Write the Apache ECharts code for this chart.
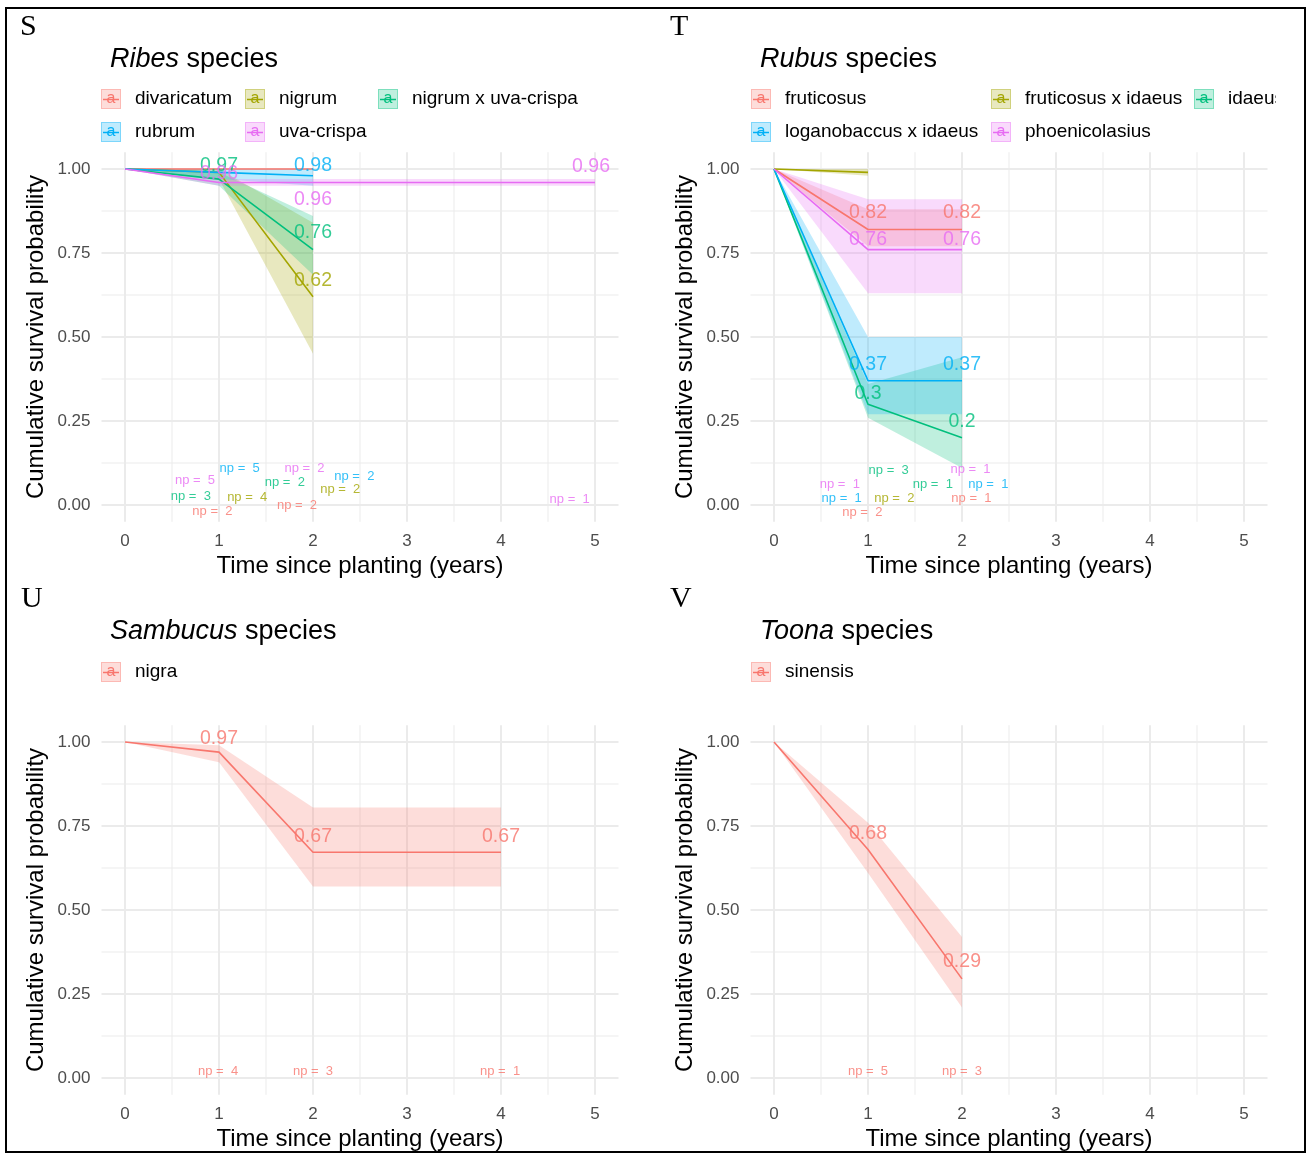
<!DOCTYPE html>
<html><head><meta charset="utf-8">
<script src="https://cdn.jsdelivr.net/npm/echarts@6/dist/echarts.min.js"></script>
<style>html,body{margin:0;padding:0;background:#fff}#c{width:1307px;height:1154px}</style>
</head><body><div id="c"></div>
<script>
// ---------- axis ticks ----------
const xTicks = [0, 1, 2, 3, 4, 5];
const xMinor = [0.5, 1.5, 2.5, 3.5, 4.5];
const yTicks = [0, 0.25, 0.5, 0.75, 1];
const yMinor = [0.125, 0.375, 0.625, 0.875];

// ---------- S: Ribes ----------
const ribesSpecies = ['divaricatum', 'nigrum', 'nigrum x uva-crispa', 'rubrum', 'uva-crispa'];
const ribesTime  = [[0,1,2], [0,1,2], [0,1,2], [0,1,2], [0,1,2,5]];
const ribesSurv  = [[1,1,1], [1,0.99,0.62], [1,0.97,0.76], [1,0.99,0.98], [1,0.96,0.96,0.96]];
const ribesLower = [[1,1,1], [1,0.97,0.45], [1,0.95,0.685], [1,0.97,0.95], [1,0.95,0.95,0.95]];
const ribesUpper = [[1,1,1], [1,1,0.84], [1,0.99,0.86], [1,1,1], [1,0.97,0.97,0.97]];
const ribesValueLabels = [[2,1,'0.97'], [4,1,'0.96'], [3,2,'0.98'], [4,2,'0.96'], [2,2,'0.76'], [1,2,'0.62'], [4,5,'0.96']];
const ribesNp = [[4,5], [3,5], [4,2], [2,2], [3,2], [2,3], [1,4], [1,2], [0,2], [0,2], [4,1]];
const ribesNpPos = [[0.745,0.074], [1.22,0.11], [1.91,0.11], [1.70,0.068], [2.44,0.086], [0.70,0.027], [1.30,0.024], [2.29,0.045], [0.93,-0.018], [1.83,0.0], [4.73,0.018]];

// ---------- T: Rubus ----------
const rubusSpecies = ['fruticosus', 'fruticosus x idaeus', 'idaeus', 'loganobaccus x idaeus', 'phoenicolasius'];
const rubusTime  = [[0,1,2], [0,1], [0,1,2], [0,1,2], [0,1,2]];
const rubusSurv  = [[1,0.82,0.82], [1,0.99], [1,0.30,0.20], [1,0.37,0.37], [1,0.76,0.76]];
const rubusLower = [[1,0.77,0.77], [1,0.98], [1,0.26,0.11], [1,0.27,0.27], [1,0.63,0.63]];
const rubusUpper = [[1,0.88,0.88], [1,1], [1,0.36,0.44], [1,0.50,0.50], [1,0.91,0.91]];
const rubusValueLabels = [[0,1,'0.82'], [0,2,'0.82'], [4,1,'0.76'], [4,2,'0.76'], [3,1,'0.37'], [3,2,'0.37'], [2,1,'0.3'], [2,2,'0.2']];
const rubusNp = [[2,3], [4,1], [2,1], [4,1], [3,1], [3,1], [1,2], [0,1], [0,2]];
const rubusNpPos = [[1.22,0.104], [0.70,0.062], [1.69,0.06], [2.09,0.107], [2.28,0.06], [0.72,0.021], [1.28,0.021], [2.10,0.021], [0.94,-0.021]];

// ---------- U: Sambucus ----------
const sambucusSpecies = ['nigra'];
const sambucusTime  = [[0,1,2,4]];
const sambucusSurv  = [[1,0.97,0.672,0.672]];
const sambucusLower = [[1,0.94,0.57,0.57]];
const sambucusUpper = [[1,0.99,0.805,0.805]];
const sambucusValueLabels = [[0,1,'0.97'], [0,2,'0.67'], [0,4,'0.67']];
const sambucusNp = [[0,4], [0,3], [0,1]];
const sambucusNpPos = [[0.99,0.021], [2.0,0.021], [3.99,0.021]];

// ---------- V: Toona ----------
const toonaSpecies = ['sinensis'];
const toonaTime  = [[0,1,2]];
const toonaSurv  = [[1,0.68,0.295]];
const toonaLower = [[1,0.61,0.21]];
const toonaUpper = [[1,0.76,0.42]];
const toonaValueLabels = [[0,1,'0.68'], [0,2,'0.29']];
const toonaNp = [[0,5], [0,3]];
const toonaNpPos = [[1.0,0.021], [2.0,0.021]];

// ---------- styles / layout ----------
const FONT = '"Liberation Sans", Arial, Helvetica, sans-serif';
const SERIF = '"Liberation Serif", "Times New Roman", serif';
const HUE5 = ['#F8766D', '#A3A500', '#00BF7D', '#00B0F6', '#E76BF3'];
const HUE1 = ['#F8766D'];
function rgba(hex, a) { const n = parseInt(hex.slice(1), 16); return `rgba(${n >> 16},${(n >> 8) & 255},${n & 255},${a})`; }

// legend key background: translucent fill box with the line key through it
function keyImage(c) {
  const cv = document.createElement('canvas'); cv.width = 20; cv.height = 20;
  const g = cv.getContext('2d');
  g.fillStyle = rgba(c, 0.25); g.fillRect(0, 0, 20, 20);
  g.strokeStyle = rgba(c, 0.35); g.lineWidth = 1; g.strokeRect(0.5, 0.5, 19, 19);
  g.strokeStyle = c; g.lineWidth = 1.5; g.beginPath(); g.moveTo(2, 10.5); g.lineTo(18, 10.5); g.stroke();
  return cv;
}

const panels = [
  { letter: 'S', genus: 'Ribes', species: ribesSpecies, time: ribesTime, surv: ribesSurv, lower: ribesLower, upper: ribesUpper,
    vlabels: ribesValueLabels, np: ribesNp, npPos: ribesNpPos, colors: HUE5,
    voff: [[0,-13],[0,-9],[0,-10],[0,17],[0,-17],[0,-16],[-4,-16]],
    gridLeft: 101.5, gridTop: 152.2, letterPos: [20, 27], titlePos: [110, 60],
    keys: [[101,99],[245,99],[378,99],[101,132],[245,132]] },
  { letter: 'T', genus: 'Rubus', species: rubusSpecies, time: rubusTime, surv: rubusSurv, lower: rubusLower, upper: rubusUpper,
    vlabels: rubusValueLabels, np: rubusNp, npPos: rubusNpPos, colors: HUE5,
    voff: [[0,-17],[0,-17],[0,-10],[0,-10],[0,-16],[0,-16],[0,-11],[0,-16]],
    gridLeft: 750.5, gridTop: 152.2, letterPos: [670, 27], titlePos: [760, 60],
    keys: [[751,99],[991,99],[1194,99],[751,132],[991,132]] },
  { letter: 'U', genus: 'Sambucus', species: sambucusSpecies, time: sambucusTime, surv: sambucusSurv, lower: sambucusLower, upper: sambucusUpper,
    vlabels: sambucusValueLabels, np: sambucusNp, npPos: sambucusNpPos, colors: HUE1,
    voff: [[0,-13],[0,-16],[0,-16]],
    gridLeft: 101.5, gridTop: 725.2, letterPos: [21, 599], titlePos: [110, 632],
    keys: [[101,672]] },
  { letter: 'V', genus: 'Toona', species: toonaSpecies, time: toonaTime, surv: toonaSurv, lower: toonaLower, upper: toonaUpper,
    vlabels: toonaValueLabels, np: toonaNp, npPos: toonaNpPos, colors: HUE1,
    voff: [[0,-16],[0,-17]],
    gridLeft: 750.5, gridTop: 725.2, letterPos: [670, 599], titlePos: [760, 632],
    keys: [[751,672]] }
];

const GRID_W = 517, GRID_H = 369.6;
const grids = [], xAxes = [], yAxes = [], series = [], titles = [], legends = [];

function gridRenderer(params, api) {
  if (params.dataIndex !== 0) return;
  const ch = [];
  const add = (p1, p2, w) => {
    const a = api.coord(p1), b = api.coord(p2);
    ch.push({ type: 'line', shape: { x1: a[0], y1: a[1], x2: b[0], y2: b[1] }, style: { stroke: '#EBEBEB', lineWidth: w } });
  };
  xMinor.forEach(x => add([x, -0.05], [x, 1.05], 1));
  yMinor.forEach(y => add([-0.25, y], [5.25, y], 1));
  xTicks.forEach(x => add([x, -0.05], [x, 1.05], 2));
  yTicks.forEach(y => add([-0.25, y], [5.25, y], 2));
  return { type: 'group', children: ch };
}

panels.forEach((p, gi) => {
  grids.push({ left: p.gridLeft, top: p.gridTop, width: GRID_W, height: GRID_H, containLabel: false, outerBoundsMode: 'none' });
  xAxes.push({
    gridIndex: gi, type: 'value', min: -0.25, max: 5.25,
    axisLine: { show: false }, axisTick: { show: false }, splitLine: { show: false },
    axisLabel: { customValues: xTicks, color: '#4D4D4D', fontSize: 17, margin: 11, fontFamily: FONT },
    name: 'Time since planting (years)', nameLocation: 'middle', nameGap: 33,
    nameTextStyle: { fontSize: 24, color: '#000', fontFamily: FONT }
  });
  yAxes.push({
    gridIndex: gi, type: 'value', min: -0.05, max: 1.05,
    axisLine: { show: false }, axisTick: { show: false }, splitLine: { show: false },
    axisLabel: { customValues: yTicks, formatter: v => v.toFixed(2), color: '#4D4D4D', fontSize: 17, margin: 11, fontFamily: FONT },
    name: 'Cumulative survival probability', nameLocation: 'middle', nameGap: 53,
    nameTextStyle: { fontSize: 24, color: '#000', fontFamily: FONT }
  });
  // background grid lines
  series.push({ type: 'custom', xAxisIndex: gi, yAxisIndex: gi, data: [[0, 0]], renderItem: gridRenderer, z: 0, silent: true });
  // ribbons
  p.species.forEach((name, si) => {
    const t = p.time[si], lo = p.lower[si], hi = p.upper[si], c = p.colors[si];
    series.push({
      type: 'custom', name, xAxisIndex: gi, yAxisIndex: gi, z: 1, silent: true,
      data: t.map((x, i) => [x, lo[i], hi[i]]),
      renderItem: (params, api) => {
        if (params.dataIndex !== 0) return;
        const pts = [];
        for (let i = 0; i < t.length; i++) pts.push(api.coord([t[i], lo[i]]));
        for (let i = t.length - 1; i >= 0; i--) pts.push(api.coord([t[i], hi[i]]));
        return { type: 'polygon', shape: { points: pts }, style: { fill: rgba(c, 0.25) } };
      }
    });
  });
  // survival lines
  p.species.forEach((name, si) => {
    const c = p.colors[si];
    series.push({
      type: 'line', name, xAxisIndex: gi, yAxisIndex: gi, z: 2, silent: true,
      data: p.time[si].map((x, i) => [x, p.surv[si][i]]),
      showSymbol: false, symbol: 'none', color: c,
      lineStyle: { color: c, width: 1.6 }
    });
  });
  // value labels
  series.push({
    type: 'scatter', xAxisIndex: gi, yAxisIndex: gi, z: 3, silent: true, symbolSize: 1, clip: false,
    itemStyle: { color: 'rgba(0,0,0,0)' },
    label: { show: true, position: 'inside', fontSize: 19.5, fontFamily: FONT, formatter: q => q.data.text },
    data: p.vlabels.map(([si, t, text], k) => {
      const s = p.surv[si][p.time[si].indexOf(t)];
      return { value: [t, s], text, label: { color: p.colors[si], offset: p.voff[k] } };
    })
  });
  // number-at-risk labels
  series.push({
    type: 'scatter', xAxisIndex: gi, yAxisIndex: gi, z: 3, silent: true, symbolSize: 1, clip: false,
    itemStyle: { color: 'rgba(0,0,0,0)' },
    label: { show: true, position: 'inside', fontSize: 13, fontFamily: FONT, formatter: q => q.data.text },
    data: p.np.map(([si, n], k) => ({ value: p.npPos[k], text: 'np =  ' + n, label: { color: p.colors[si] } }))
  });
  // titles
  titles.push({ text: p.letter, left: p.letterPos[0] - 5, top: p.letterPos[1] - 20,
    textStyle: { fontFamily: SERIF, fontSize: 30, fontWeight: 'normal', color: '#000' } });
  titles.push({ text: `{i|${p.genus}}{n| species}`, left: p.titlePos[0] - 5, top: p.titlePos[1] - 19,
    textStyle: { fontWeight: 'normal', rich: {
      i: { fontStyle: 'italic', fontWeight: 'normal', fontSize: 27, fontFamily: FONT, color: '#000' },
      n: { fontWeight: 'normal', fontSize: 27, fontFamily: FONT, color: '#000' } } } });
  // legends (one per key, laid out in columns like the original)
  p.species.forEach((name, si) => {
    const c = p.colors[si], k = p.keys[si];
    legends.push({
      left: k[0] - 10, top: k[1] - 15, icon: 'none', itemWidth: 0, itemHeight: 20, padding: 5,
      selectedMode: false, data: [name],
      formatter: () => `{k|a}{n|${name}}`,
      textStyle: { rich: {
        k: { width: 20, height: 20, lineHeight: 20, align: 'center', verticalAlign: 'middle',
             backgroundColor: { image: keyImage(c) }, color: c, fontSize: 16, fontWeight: 'normal', fontFamily: FONT },
        n: { fontSize: 19, color: '#000', fontFamily: FONT, padding: [0, 0, 0, 14] } } }
    });
  });
});

const chart = echarts.init(document.getElementById('c'), null, { renderer: 'canvas' });
chart.setOption({
  animation: false,
  backgroundColor: '#fff',
  title: titles,
  legend: legends,
  grid: grids,
  xAxis: xAxes,
  yAxis: yAxes,
  series: series,
  graphic: [
    // the original panel clips the last legend entry at its right edge
    { type: 'rect', shape: { x: 1276, y: 84, width: 28, height: 30 }, style: { fill: '#fff' }, z: 90 },
    { type: 'rect', shape: { x: 6, y: 8, width: 1299, height: 1144 }, style: { fill: 'none', stroke: '#000', lineWidth: 2 }, z: 100 }
  ]
});
</script></body></html>
